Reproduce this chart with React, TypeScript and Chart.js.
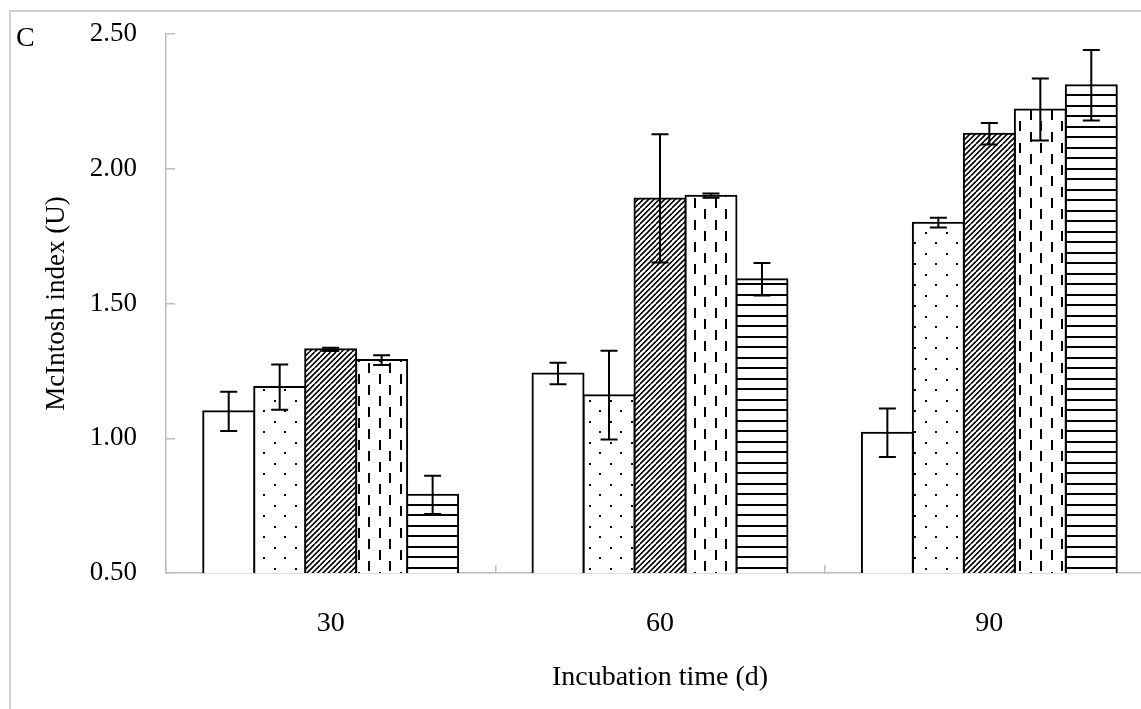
import React, { useEffect, useRef } from 'react';
import { Chart, registerables } from 'chart.js';

Chart.register(...registerables);

// ---------- data ----------
const categories = ['30', '60', '90'];
const seriesOpen = [1.1, 1.24, 1.02];
const errOpen = [0.073, 0.04, 0.09];
const seriesDots = [1.19, 1.16, 1.8];
const errDots = [0.084, 0.165, 0.018];
const seriesHatch = [1.33, 1.89, 2.13];
const errHatch = [0.006, 0.238, 0.04];
const seriesDash = [1.29, 1.9, 2.22];
const errDash = [0.018, 0.008, 0.115];
const seriesHoriz = [0.79, 1.59, 2.31];
const errHoriz = [0.071, 0.06, 0.131];
const yMin = 0.5;
const yMax = 2.5;
const yStep = 0.5;
const xTitle = 'Incubation time (d)';
const yTitle = 'McIntosh index (U)';
const panelLabel = 'C';

const FONT = "'Liberation Serif', 'Times New Roman', serif";
const AXIS_GRAY = '#bdbdbd';

function makePattern(kind: string): CanvasPattern | string {
  if (kind === 'none') return '#ffffff';
  const c = document.createElement('canvas');
  const ctx = c.getContext('2d')!;
  if (kind === 'dots') {
    c.width = 21; c.height = 21;
    ctx.fillStyle = '#fff'; ctx.fillRect(0, 0, 21, 21);
    ctx.fillStyle = '#000';
    ctx.fillRect(1, 1, 2, 2);
    ctx.fillRect(11, 11, 2, 2);
  } else if (kind === 'hatch') {
    c.width = 16; c.height = 16;
    ctx.fillStyle = '#fff'; ctx.fillRect(0, 0, 16, 16);
    ctx.strokeStyle = '#000';
    ctx.lineWidth = 1.6;
    for (let k = -1; k <= 7; k++) {
      const cc = (k * 16) / 3;
      ctx.beginPath();
      ctx.moveTo(cc, 0);
      ctx.lineTo(cc - 16, 16);
      ctx.stroke();
    }
  } else if (kind === 'dash') {
    c.width = 21; c.height = 22;
    ctx.fillStyle = '#fff'; ctx.fillRect(0, 0, 21, 22);
    ctx.fillStyle = '#000';
    ctx.fillRect(1, 0, 2, 10);
    ctx.fillRect(11, 11, 2, 10);
  } else if (kind === 'horiz') {
    c.width = 4; c.height = 21;
    ctx.fillStyle = '#fff'; ctx.fillRect(0, 0, 4, 21);
    ctx.fillStyle = '#000';
    ctx.fillRect(0, 0, 4, 2);
    ctx.fillRect(0, 10, 4, 2);
  }
  return ctx.createPattern(c, 'repeat')!;
}

const errorBarPlugin = {
  id: 'errorBars',
  afterDatasetsDraw(chart: any) {
    const ctx = chart.ctx;
    const yScale = chart.scales.y;
    ctx.save();
    ctx.strokeStyle = '#000';
    ctx.lineWidth = 2;
    chart.data.datasets.forEach((ds: any, i: number) => {
      const meta = chart.getDatasetMeta(i);
      meta.data.forEach((bar: any, j: number) => {
        const v = ds.data[j];
        const e = ds.errors[j];
        const yt = yScale.getPixelForValue(v + e);
        const yb = yScale.getPixelForValue(v - e);
        const x = bar.x;
        const hw = 8.5;
        ctx.beginPath();
        ctx.moveTo(x, yt); ctx.lineTo(x, yb);
        ctx.moveTo(x - hw, yt); ctx.lineTo(x + hw, yt);
        ctx.moveTo(x - hw, yb); ctx.lineTo(x + hw, yb);
        ctx.stroke();
      });
    });
    ctx.restore();
  },
};

const panelLabelPlugin = {
  id: 'panelLabel',
  afterDraw(chart: any) {
    const ctx = chart.ctx;
    ctx.save();
    ctx.fillStyle = '#000';
    ctx.font = `28px ${FONT}`;
    ctx.textBaseline = 'alphabetic';
    ctx.textAlign = 'left';
    ctx.fillText(panelLabel, 16, 46);
    ctx.restore();
  },
};

export default function App() {
  const ref = useRef<HTMLCanvasElement>(null);

  useEffect(() => {
    const canvas = ref.current!;
    const common = {
      borderColor: '#000',
      borderWidth: 2,
      borderSkipped: false,
      inflateAmount: 1,
      barPercentage: 1,
      categoryPercentage: 0.774,
    };
    const chart = new Chart(canvas, {
      type: 'bar',
      data: {
        labels: categories,
        datasets: [
          { ...common, label: 'a', data: seriesOpen, errors: errOpen, backgroundColor: makePattern('none') },
          { ...common, label: 'b', data: seriesDots, errors: errDots, backgroundColor: makePattern('dots') },
          { ...common, label: 'c', data: seriesHatch, errors: errHatch, backgroundColor: makePattern('hatch') },
          { ...common, label: 'd', data: seriesDash, errors: errDash, backgroundColor: makePattern('dash') },
          { ...common, label: 'e', data: seriesHoriz, errors: errHoriz, backgroundColor: makePattern('horiz') },
        ] as any,
      },
      options: {
        responsive: false,
        animation: false,
        devicePixelRatio: 1,
        layout: { padding: { top: 34, right: 6, bottom: 0, left: 0 } },
        plugins: {
          legend: { display: false },
          tooltip: { enabled: false },
        },
        scales: {
          x: {
            type: 'category',
            offset: true,
            grid: {
              offset: true,
              drawOnChartArea: false,
              drawTicks: true,
              tickLength: -8,
              color: AXIS_GRAY,
              lineWidth: 1.5,
            },
            border: { display: true, color: AXIS_GRAY, width: 1.5 },
            ticks: {
              color: '#000',
              padding: 42,
              font: { family: FONT, size: 28 },
              maxRotation: 0,
            },
            title: {
              display: true,
              text: xTitle,
              color: '#000',
              font: { family: FONT, size: 28 },
              padding: { top: 0, bottom: 15 },
            },
            afterFit: (scale: any) => {
              scale.height = 136;
              scale.paddingLeft = 0;
              scale.paddingRight = 0;
            },
          },
          y: {
            min: yMin,
            max: yMax,
            grid: {
              drawOnChartArea: false,
              drawTicks: true,
              tickLength: -9,
              color: AXIS_GRAY,
              lineWidth: 1.5,
            },
            border: { display: true, color: AXIS_GRAY, width: 1.5 },
            ticks: {
              stepSize: yStep,
              color: '#000',
              padding: 38,
              font: { family: FONT, size: 27 },
              callback: (v: any) => Number(v).toFixed(2),
            },
            title: {
              display: true,
              text: yTitle,
              color: '#000',
              font: { family: FONT, size: 27 },
              padding: { top: 41, bottom: 0 },
            },
            afterFit: (scale: any) => {
              scale.width = 166;
              scale.paddingTop = 0;
              scale.paddingBottom = 0;
            },
          },
        },
      } as any,
      plugins: [errorBarPlugin, panelLabelPlugin],
    });
    return () => chart.destroy();
  }, []);

  return (
    <div
      style={{
        position: 'fixed',
        left: 0,
        top: 0,
        width: 1141,
        height: 709,
        overflow: 'hidden',
        background: '#fff',
      }}
    >
      <div
        style={{
          position: 'absolute',
          left: 9,
          top: 10,
          width: 1200,
          height: 800,
          borderLeft: '2px solid #d0d0d0',
          borderTop: '2px solid #d0d0d0',
          boxSizing: 'border-box',
        }}
      />
      <canvas
        ref={ref}
        width={1160}
        height={709}
        style={{ position: 'absolute', left: 0, top: 0, width: 1160, height: 709 }}
      />
    </div>
  );
}
